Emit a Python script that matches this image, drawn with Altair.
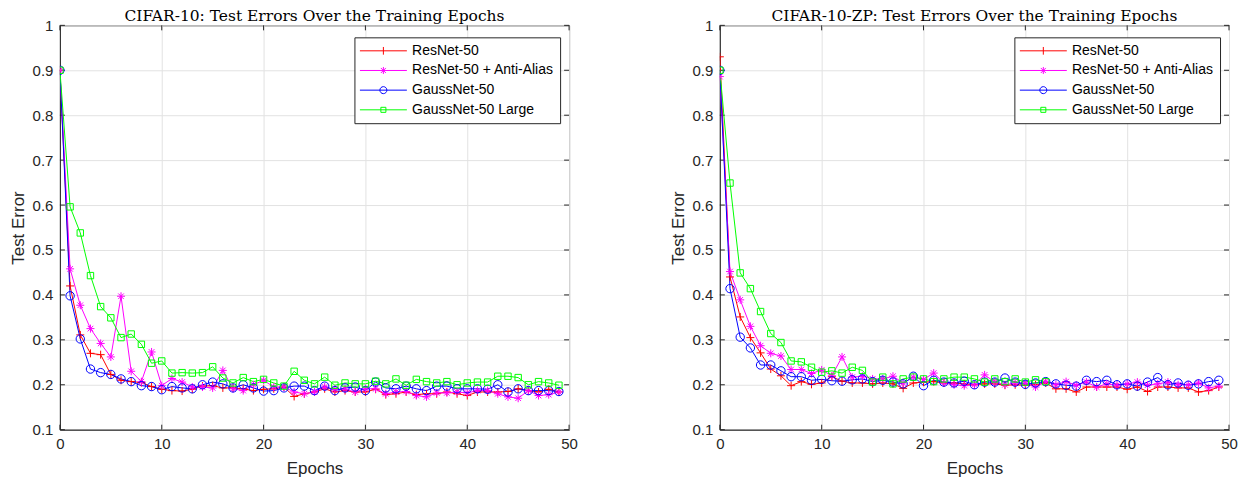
import altair as alt
import pandas as pd

# ---------------- data ----------------
epochs = list(range(50))
series_names = ["ResNet-50", "ResNet-50 + Anti-Alias", "GaussNet-50", "GaussNet-50 Large"]
series_colors = ["#ff0000", "#ff00ff", "#0000ff", "#00ff00"]
panel_titles = ["CIFAR-10: Test Errors Over the Training Epochs",
                "CIFAR-10-ZP: Test Errors Over the Training Epochs"]
x_ticks = [0, 10, 20, 30, 40, 50]
y_ticks = [0.1, 0.2, 0.3, 0.4, 0.5, 0.6, 0.7, 0.8, 0.9, 1.0]

# CIFAR-10 (left)
resnet_left = [0.90, 0.42, 0.311, 0.27, 0.267, 0.223, 0.21, 0.207, 0.205, 0.196,
               0.19, 0.187, 0.186, 0.19, 0.197, 0.198, 0.193, 0.193, 0.191, 0.187,
               0.19, 0.191, 0.195, 0.174, 0.18, 0.184, 0.191, 0.184, 0.187, 0.184,
               0.184, 0.19, 0.178, 0.18, 0.184, 0.178, 0.18, 0.18, 0.184, 0.18,
               0.176, 0.184, 0.184, 0.184, 0.185, 0.191, 0.187, 0.184, 0.19, 0.184]
antialias_left = [0.90, 0.458, 0.377, 0.325, 0.292, 0.262, 0.397, 0.23, 0.207, 0.273,
                  0.198, 0.214, 0.206, 0.195, 0.195, 0.193, 0.232, 0.191, 0.187, 0.2,
                  0.21, 0.195, 0.195, 0.184, 0.18, 0.184, 0.195, 0.19, 0.19, 0.184,
                  0.191, 0.191, 0.18, 0.184, 0.185, 0.176, 0.173, 0.182, 0.182, 0.184,
                  0.182, 0.187, 0.187, 0.18, 0.173, 0.17, 0.187, 0.176, 0.178, 0.184]
gauss_left = [0.90, 0.398, 0.302, 0.235, 0.227, 0.223, 0.213, 0.207, 0.198, 0.196,
              0.189, 0.196, 0.193, 0.191, 0.2, 0.206, 0.202, 0.193, 0.2, 0.193,
              0.186, 0.187, 0.193, 0.197, 0.197, 0.187, 0.197, 0.187, 0.193, 0.195,
              0.187, 0.206, 0.193, 0.191, 0.197, 0.191, 0.187, 0.197, 0.197, 0.191,
              0.191, 0.191, 0.19, 0.2, 0.184, 0.191, 0.187, 0.187, 0.187, 0.185]
large_left = [0.90, 0.596, 0.538, 0.443, 0.374, 0.349, 0.305, 0.313, 0.29, 0.248,
              0.253, 0.226, 0.227, 0.226, 0.227, 0.24, 0.215, 0.204, 0.216, 0.207,
              0.212, 0.204, 0.197, 0.23, 0.21, 0.202, 0.217, 0.199, 0.204, 0.202,
              0.202, 0.208, 0.202, 0.213, 0.199, 0.212, 0.207, 0.204, 0.207, 0.2,
              0.204, 0.206, 0.206, 0.219, 0.219, 0.216, 0.2, 0.207, 0.204, 0.199]

# CIFAR-10-ZP (right)
resnet_right = [0.93, 0.44, 0.351, 0.305, 0.271, 0.235, 0.22, 0.198, 0.207, 0.201,
                0.204, 0.218, 0.208, 0.204, 0.204, 0.202, 0.204, 0.202, 0.192, 0.204,
                0.206, 0.207, 0.204, 0.204, 0.202, 0.2, 0.202, 0.202, 0.199, 0.2,
                0.199, 0.2, 0.204, 0.191, 0.191, 0.184, 0.195, 0.195, 0.195, 0.195,
                0.19, 0.195, 0.185, 0.195, 0.195, 0.193, 0.193, 0.184, 0.187, 0.195]
antialias_right = [0.886, 0.452, 0.389, 0.33, 0.287, 0.27, 0.264, 0.234, 0.234, 0.225,
                   0.233, 0.22, 0.262, 0.217, 0.219, 0.213, 0.213, 0.219, 0.204, 0.217,
                   0.212, 0.226, 0.204, 0.2, 0.198, 0.2, 0.222, 0.206, 0.2, 0.204,
                   0.204, 0.195, 0.207, 0.2, 0.207, 0.199, 0.206, 0.195, 0.202, 0.199,
                   0.202, 0.206, 0.199, 0.202, 0.206, 0.2, 0.2, 0.204, 0.193, 0.197]
gauss_right = [0.90, 0.414, 0.306, 0.282, 0.244, 0.244, 0.231, 0.218, 0.218, 0.21,
               0.212, 0.209, 0.208, 0.211, 0.213, 0.207, 0.21, 0.206, 0.202, 0.219,
               0.198, 0.21, 0.206, 0.204, 0.208, 0.2, 0.206, 0.206, 0.215, 0.206,
               0.201, 0.204, 0.207, 0.202, 0.199, 0.197, 0.21, 0.207, 0.21, 0.2,
               0.202, 0.197, 0.206, 0.216, 0.2, 0.204, 0.199, 0.202, 0.207, 0.21]
large_right = [0.90, 0.649, 0.449, 0.414, 0.363, 0.314, 0.294, 0.253, 0.251, 0.239,
               0.228, 0.231, 0.226, 0.239, 0.232, 0.206, 0.217, 0.202, 0.213, 0.217,
               0.213, 0.207, 0.213, 0.217, 0.217, 0.213, 0.206, 0.213, 0.207, 0.213,
               0.206, 0.211, 0.207]

# marker glyphs (custom symbol paths, unit box -1..1)
plot_shapes = [
    "M-1,0L1,0M0,-1L0,1",
    "M-1,0L1,0M0,-1L0,1M-0.7,-0.7L0.7,0.7M-0.7,0.7L0.7,-0.7",
    "M1.05,0A1.05,1.05 0 1,1 -1.05,0A1.05,1.05 0 1,1 1.05,0",
    "M-0.8,-0.8L0.8,-0.8L0.8,0.8L-0.8,0.8Z",
]
# legend glyphs: long line with a small marker in the middle
legend_shapes = [
    "M-3.36,0L3.36,0M0,-0.55L0,0.55",
    "M-3.36,0L3.36,0M0,-0.5L0,0.5M-0.36,-0.36L0.36,0.36M-0.36,0.36L0.36,-0.36",
    "M-3.36,0L3.36,0M0.5,0A0.5,0.5 0 1,1 -0.5,0A0.5,0.5 0 1,1 0.5,0",
    "M-3.36,0L3.36,0M-0.36,-0.36L0.36,-0.36L0.36,0.36L-0.36,0.36Z",
]

PW, PH, TICK = 510, 405, 5
AXIS_COLOR = "#262626"


def make_df(arrays):
    rows = []
    for name, vals in zip(series_names, arrays):
        for e, v in zip(epochs, vals):
            rows.append({"epoch": e, "error": v, "series": name})
    return pd.DataFrame(rows)


def panel(df, title):
    x = alt.X("epoch:Q", scale=alt.Scale(domain=[0, 50], nice=False),
              axis=alt.Axis(values=x_ticks, title="Epochs", format="d", labelFlush=False))
    y = alt.Y("error:Q", scale=alt.Scale(domain=[0.1, 1.0], nice=False, zero=False),
              axis=alt.Axis(values=y_ticks, title="Test Error", format=".1~f", labelFlush=False))
    cscale = alt.Scale(domain=series_names, range=series_colors)

    xt = pd.DataFrame({"epoch": x_ticks})
    yt = pd.DataFrame({"error": y_ticks})
    tick_bottom = alt.Chart(xt).mark_rule(color=AXIS_COLOR, strokeWidth=1).encode(
        x=x, y=alt.value(PH - TICK), y2=alt.value(PH))
    tick_top = alt.Chart(xt).mark_rule(color=AXIS_COLOR, strokeWidth=1).encode(
        x=x, y=alt.value(0), y2=alt.value(TICK))
    tick_left = alt.Chart(yt).mark_rule(color=AXIS_COLOR, strokeWidth=1).encode(
        y=y, x=alt.value(0), x2=alt.value(TICK))
    tick_right = alt.Chart(yt).mark_rule(color=AXIS_COLOR, strokeWidth=1).encode(
        y=y, x=alt.value(PW - TICK), x2=alt.value(PW))

    lines = alt.Chart(df).mark_line(strokeWidth=1, clip=True).encode(
        x=x, y=y, color=alt.Color("series:N", scale=cscale, legend=None))
    points = alt.Chart(df).mark_point(filled=False, strokeWidth=1, size=64, opacity=1, clip=True).encode(
        x=x, y=y,
        color=alt.Color("series:N", scale=cscale, legend=None),
        shape=alt.Shape("series:N", scale=alt.Scale(domain=series_names, range=plot_shapes), legend=None))
    leg = alt.Legend(title=None, orient="none", legendX=295, legendY=12, padding=6,
                     symbolSize=196, symbolStrokeWidth=1, symbolOffset=15.5,
                     labelOffset=21.2, labelFontSize=14, labelFont="Liberation Sans",
                     labelColor="#000000", rowPadding=4.7, strokeColor=AXIS_COLOR,
                     fillColor="#ffffff", cornerRadius=0, labelLimit=400)
    dummy = alt.Chart(df).transform_filter("false").mark_point(
        filled=False, strokeWidth=1, opacity=1).encode(
        x=x, y=y,
        color=alt.Color("series:N", scale=cscale, legend=leg),
        shape=alt.Shape("series:N", scale=alt.Scale(domain=series_names, range=legend_shapes), legend=leg))
    return alt.layer(tick_bottom, tick_top, tick_left, tick_right, lines, points, dummy).resolve_scale(
        color="independent", shape="independent").resolve_legend(
        color="independent", shape="independent").properties(
        width=PW, height=PH,
        title=alt.Title(title, font="DejaVu Serif", fontSize=15.5, fontWeight="normal",
                        color="#000000", anchor="middle", frame="group", offset=-6))


df_left = make_df([resnet_left, antialias_left, gauss_left, large_left])
df_right = make_df([resnet_right, antialias_right, gauss_right, large_right])

chart = alt.hconcat(panel(df_left, panel_titles[0]), panel(df_right, panel_titles[1]),
                    spacing=151, bounds="flush").resolve_scale(
    color="independent", shape="independent", x="independent", y="independent").resolve_legend(
    color="independent", shape="independent").properties(
    padding={"left": 0, "top": 0, "right": 0, "bottom": 0}).configure_view(
    stroke=AXIS_COLOR, strokeWidth=1).configure_axis(
    grid=True, gridColor="#e2e2e2", gridWidth=1, domainColor=AXIS_COLOR, domainWidth=1,
    ticks=False, labelFont="Liberation Sans", labelFontSize=15, labelColor=AXIS_COLOR,
    labelPadding=7, titleFont="Liberation Sans", titleFontSize=17, titleFontWeight="normal",
    titleColor=AXIS_COLOR).configure_axisX(titlePadding=9).configure_axisY(titlePadding=5)

chart.save("out.html", embed_options={"renderer": "svg", "actions": False})
